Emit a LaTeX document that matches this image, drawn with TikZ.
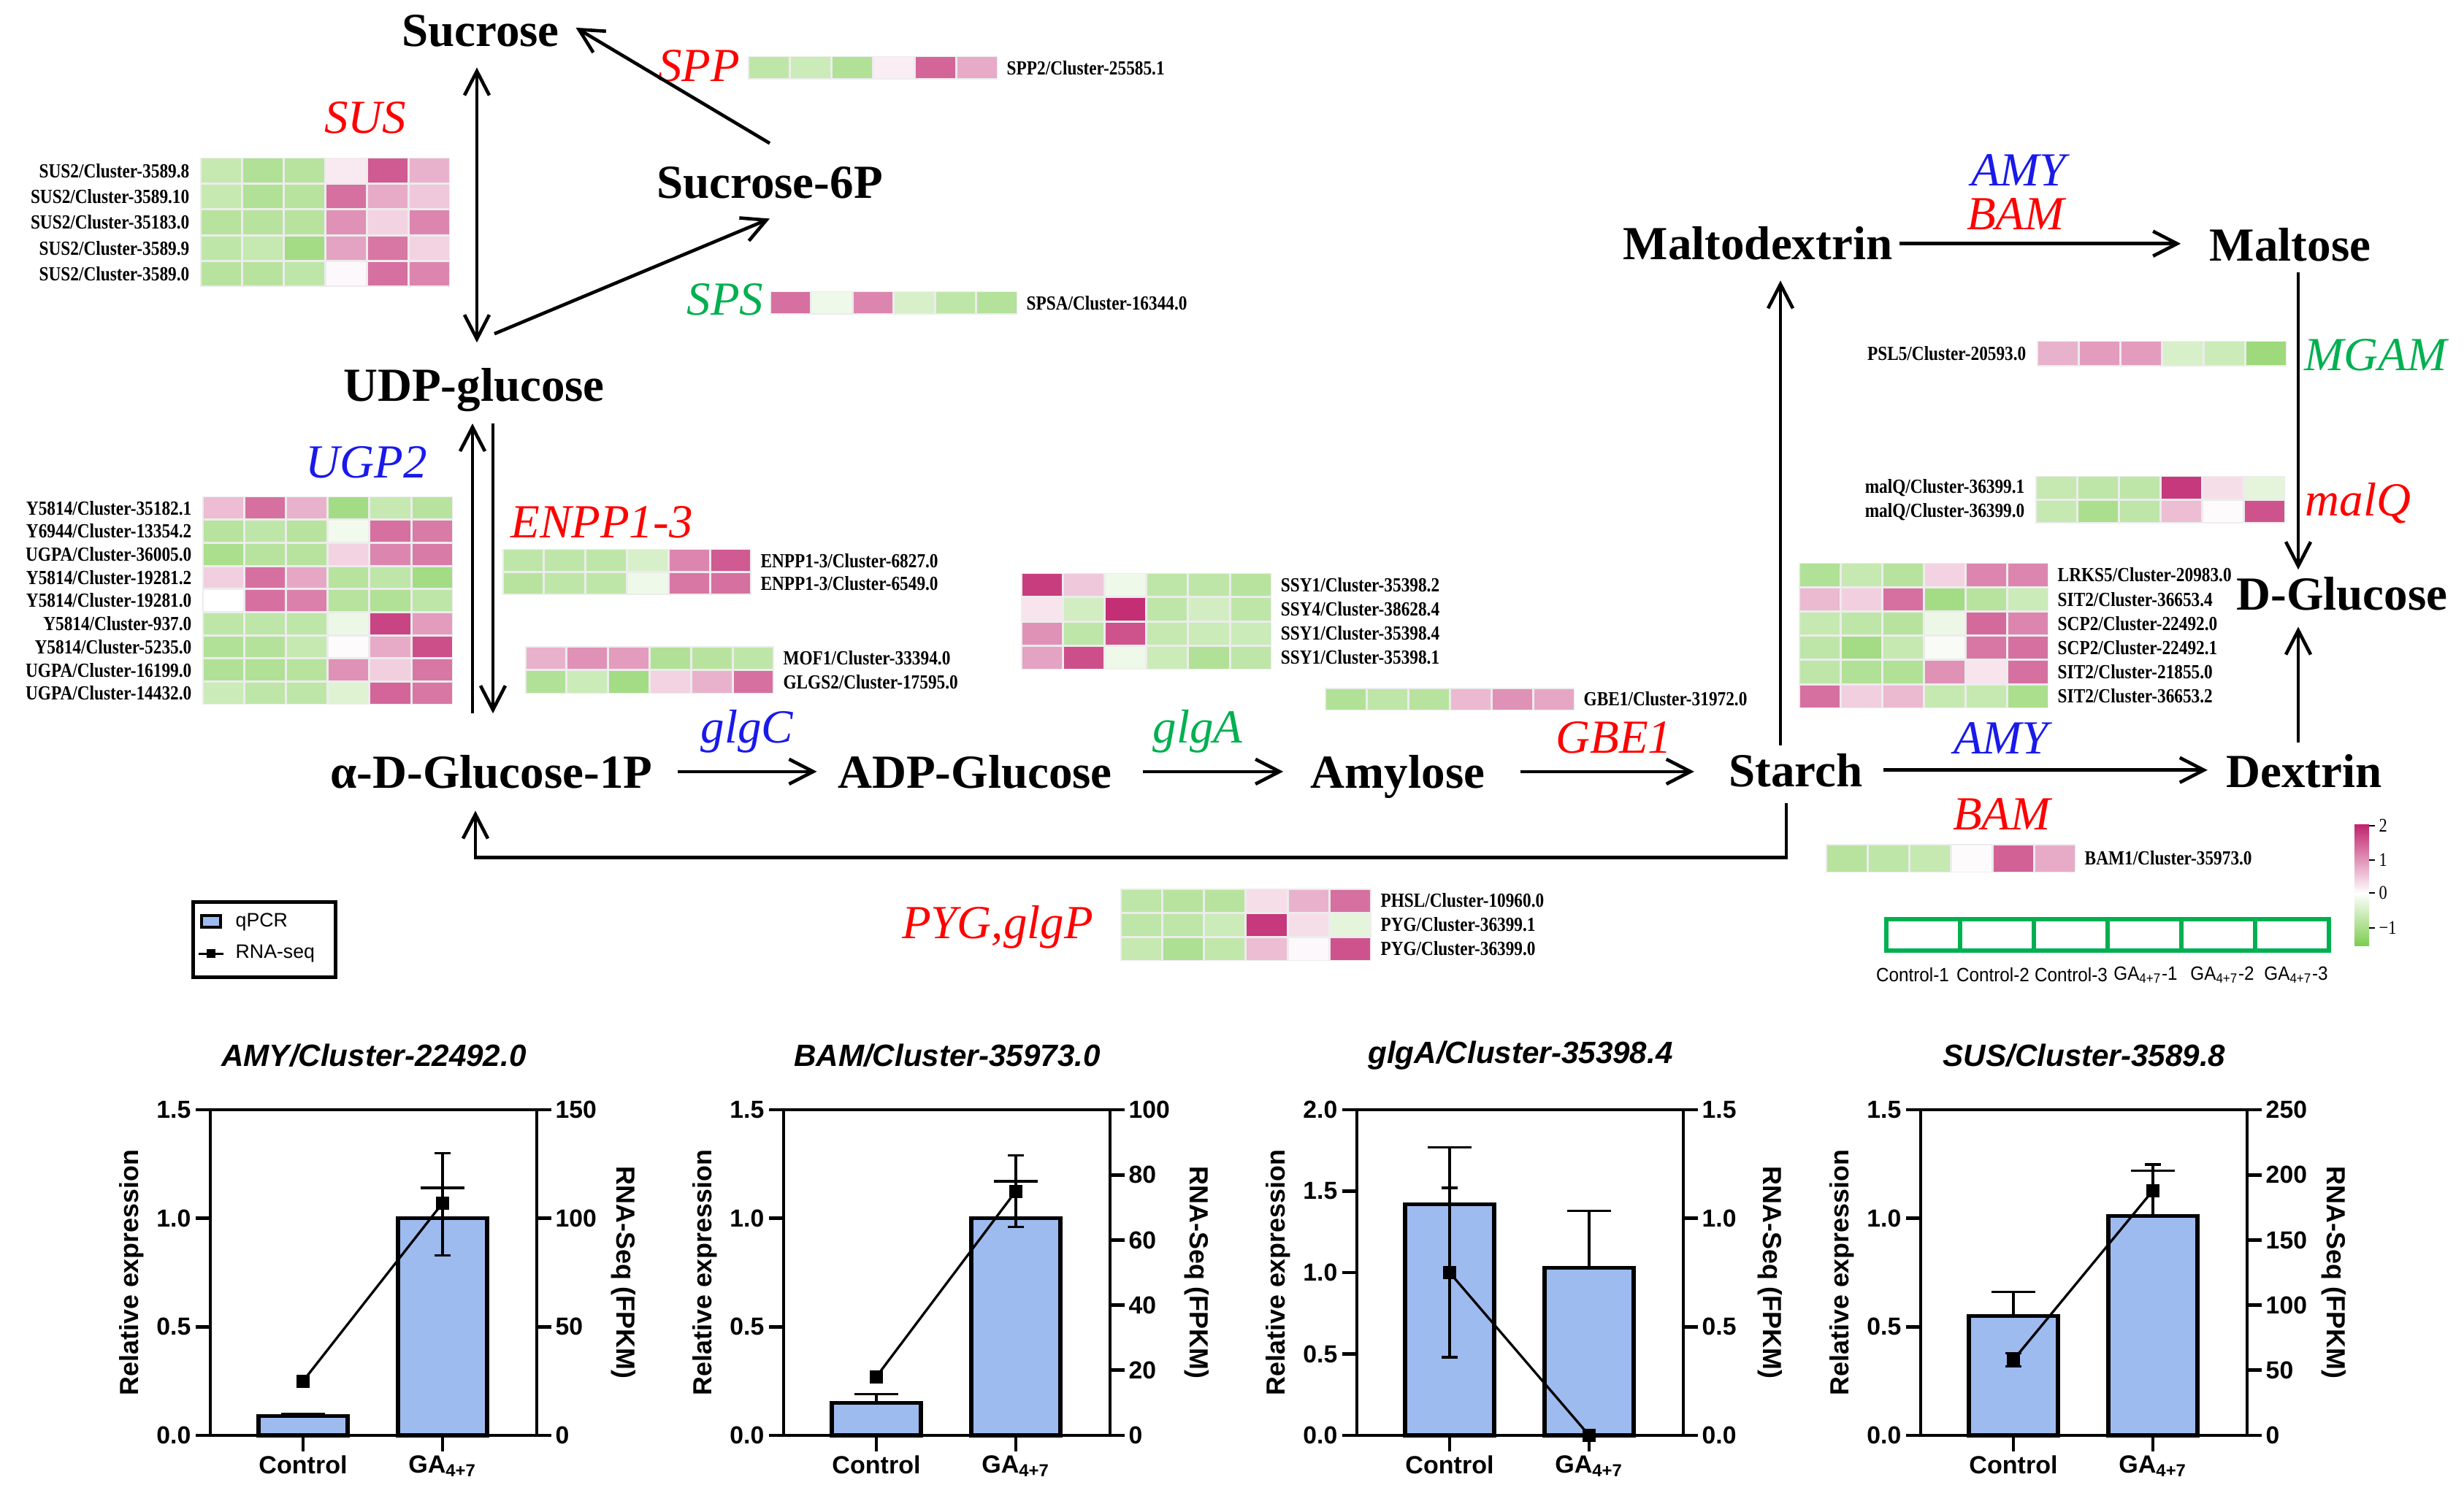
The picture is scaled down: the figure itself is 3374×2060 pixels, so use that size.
\documentclass[tikz,border=0pt]{standalone}
\usepackage{fontspec}
\setmainfont{Liberation Serif}
\setsansfont{Liberation Sans}
\newfontfamily\hmfont{Liberation Serif}[FakeStretch=0.85]
\newfontfamily\smpfont{Liberation Sans}[FakeStretch=0.92]
\usetikzlibrary{arrows.meta,calc}

\definecolor{hmG}{RGB}{125,205,80}
\definecolor{hmP}{RGB}{192,35,109}
\definecolor{hmbg}{RGB}{236,236,236}
\definecolor{gred}{RGB}{255,0,0}
\definecolor{gblue}{RGB}{25,25,235}
\definecolor{ggreen}{RGB}{0,176,80}
\definecolor{barblue}{RGB}{158,187,240}

\tikzset{
 metab/.style={font=\fontsize{18.5}{20}\selectfont\bfseries, inner sep=0pt, anchor=base},
 gene/.style={font=\fontsize{18.5}{20}\selectfont\itshape, inner sep=0pt, anchor=base},
 arr/.style={line width=0.46mm, -{Straight Barb[length=3.3mm,width=3.4mm]}},
 darr/.style={line width=0.46mm, {Straight Barb[length=3.3mm,width=3.4mm]}-{Straight Barb[length=3.3mm,width=3.4mm]}},
 hml/.style={font=\hmfont\bfseries\fontsize{7.8}{8.5}\selectfont, inner sep=0pt},
 cbl/.style={font=\hmfont\fontsize{7.5}{8}\selectfont, inner sep=0pt, anchor=west},
 smpl/.style={font=\smpfont\fontsize{7.5}{9}\selectfont, inner sep=0pt},
 legtext/.style={font=\sffamily\fontsize{7.6}{9}\selectfont, inner sep=0pt, anchor=west},
 axline/.style={line width=0.47mm, line cap=rect},
 barline/.style={line width=0.55mm},
 errline/.style={line width=0.33mm},
 ticklab/.style={font=\sffamily\bfseries\fontsize{9.6}{11}\selectfont, inner sep=0pt},
 axtitle/.style={font=\sffamily\bfseries\fontsize{10.2}{12}\selectfont, inner sep=0pt},
 xlab/.style={font=\sffamily\bfseries\fontsize{9.7}{11}\selectfont, inner sep=0pt},
 ctitle/.style={font=\sffamily\bfseries\itshape\fontsize{12}{14}\selectfont, inner sep=0pt},
}

% heat-map row: x, y, cell w, cell h, values (-100 green .. 100 pink), label, side L/R, name
\newcommand\hmrow[8]{%
  \fill[hmbg] (#1,#2) rectangle ({#1+6*#3},{#2+#4});
  \foreach \v [count=\i from 0] in {#5}{%
    \pgfmathtruncatemacro\a{abs(\v)}%
    \ifnum\v<0 \colorlet{hmc}{hmG!\a!white}\else\colorlet{hmc}{hmP!\a!white}\fi
    \fill[hmc] ({#1+\i*#3+1.5},{#2+1.5}) rectangle ({#1+(\i+1)*#3-1.5},{#2+#4-1.5});
  }%
  \ifx L#7\relax
    \node[hml,anchor=east] (#8) at ({#1-14},{#2+#4/2}) {#6};
  \else
    \node[hml,anchor=west] (#8) at ({#1+6*#3+12},{#2+#4/2}) {#6};
  \fi
}

% chart helpers (used inside a shifted scope, \Lm and \Rm defined)
\newcommand\qbar[3]{%
  \draw[barline,fill=barblue] ({#1-61},0) rectangle ({#1+61},{-#2/\Lm*446});
  \draw[errline] (#1,{-#2/\Lm*446}) -- (#1,{-#3/\Lm*446});
  \draw[errline] ({#1-30},{-#3/\Lm*446}) -- ({#1+30},{-#3/\Lm*446});
}
\newcommand\rerr[3]{%
  \draw[errline] (#1,{-#2/\Rm*446}) -- (#1,{-#3/\Rm*446});
  \draw[errline] ({#1-11},{-#2/\Rm*446}) -- ({#1+11},{-#2/\Rm*446});
  \draw[errline] ({#1-11},{-#3/\Rm*446}) -- ({#1+11},{-#3/\Rm*446});
}
\newcommand\rline[2]{%
  \draw[errline] (127,{-#1/\Rm*446}) -- (318,{-#2/\Rm*446});
  \fill (118,{-#1/\Rm*446-9}) rectangle (136,{-#1/\Rm*446+9});
  \fill (309,{-#2/\Rm*446-9}) rectangle (327,{-#2/\Rm*446+9});
}
\newcommand\chartaxes[4]{%
  \draw[axline] (-18,0) -- (465,0);
  \draw[axline] (-18,-446) -- (465,-446);
  \draw[axline] (0,0) -- (0,-446);
  \draw[axline] (447,0) -- (447,-446);
  \foreach \t/\l [count=\k] in {#2}{%
    \draw[axline] (-18,{-\t/\Lm*446}) -- (0,{-\t/\Lm*446});
    \node[ticklab,anchor=east] (#4L\k) at (-26,{-\t/\Lm*446}) {\l};}
  \foreach \t/\l [count=\k] in {#3}{%
    \draw[axline] (447,{-\t/\Rm*446}) -- (465,{-\t/\Rm*446});
    \node[ticklab,anchor=west] (#4R\k) at (472,{-\t/\Rm*446}) {\l};}
  \draw[axline] (127,0) -- (127,20);
  \draw[axline] (318,0) -- (318,20);
  \node[ctitle] (#4T) at (224,-520) {#1};
  \node[axtitle,rotate=90] (#4Y) at (-108,-223) {Relative expression};
  \node[axtitle,rotate=-90] (#4Z) at (566,-223) {RNA-Seq (FPKM)};
  \node[xlab,anchor=north] (#4C) at (127,27) {Control};
  \node[xlab,anchor=north] (#4G) at (318,27) {GA\textsubscript{4+7}};
}

\begin{document}
\begin{tikzpicture}[x=0.1mm,y=-0.1mm]
\useasboundingbox (0,0) rectangle (3374,2060);
\fill[white] (0,0) rectangle (3374,2060);

% ---------------- metabolites ----------------
\node[metab] (suc) at (658,64) {Sucrose};
\node[metab] (suc6p) at (1054,272) {Sucrose-6P};
\node[metab] (udpg) at (649,550) {UDP-glucose};
\node[metab] (g1p) at (673,1079) {α-D-Glucose-1P};
\node[metab] (adpg) at (1335,1079) {ADP-Glucose};
\node[metab] (amyl) at (1914,1079) {Amylose};
\node[metab] (starch) at (2459,1077) {Starch};
\node[metab] (dextrin) at (3155,1078) {Dextrin};
\node[metab] (maltod) at (2407,356) {Maltodextrin};
\node[metab] (maltose) at (3136,358) {Maltose};
\node[metab] (dglc) at (3207,835) {D-Glucose};

% ---------------- enzyme names ----------------
\node[gene,text=gred] (gSPP) at (957,112) {SPP};
\node[gene,text=gred] (gSUS) at (500,183) {SUS};
\node[gene,text=ggreen] (gSPS) at (993,432) {SPS};
\node[gene,text=gblue] (gUGP) at (502,655) {UGP2};
\node[gene,text=gred] (gENPP) at (824,737) {ENPP1-3};
\node[gene,text=gblue] (gglgC) at (1023,1017) {glgC};
\node[gene,text=ggreen] (gglgA) at (1640,1017) {glgA};
\node[gene,text=gred] (gGBE) at (2210,1031) {GBE1};
\node[gene,text=gblue] (gAMYb) at (2740,1032) {AMY};
\node[gene,text=gred] (gBAMb) at (2741,1136) {BAM};
\node[gene,text=gblue] (gAMYa) at (2764,255) {AMY};
\node[gene,text=gred] (gBAMa) at (2760,315) {BAM};
\node[gene,text=ggreen] (gMGAM) at (3253,508) {MGAM};
\node[gene,text=gred] (gmalQ) at (3229,707) {malQ};
\node[gene,text=gred] (gPYG) at (1366,1285) {PYG,glgP};

% ---------------- arrows ----------------
\draw[darr] ($(suc.south)+(-5,27)$) -- ($(udpg.north)+(4,-35)$);
\draw[arr] ($(suc6p.north)+(0,-32)$) -- ($(suc.east)+(22,-5)$);
\draw[arr] ($(udpg.north)+(28,-47)$) -- ($(suc6p.south)+(0,26)$);
\draw[arr] ($(g1p.north)+(-26,-56)$) -- ($(udpg.south)+(-2,15)$);
\draw[arr] ($(udpg.south)+(26,15)$) -- ($(g1p.north)+(2,-56)$);
\draw[arr] ($(g1p.east)+(34,0)$) -- ($(g1p.east -| adpg.west)+(-28,0)$);
\draw[arr] ($(adpg.east)+(41,0)$) -- ($(adpg.east -| amyl.west)+(-37,0)$);
\draw[arr] ($(amyl.east |- adpg.east)+(48,0)$) -- ($(adpg.east -| starch.west)+(-47,0)$);
\draw[arr] ($(starch.east)+(28,0)$) -- ($(starch.east -| dextrin.west)+(-25,0)$);
\draw[arr] ($(starch.north)+(-21,-10)$) -- ($(maltod.south)+(31,27)$);
\draw[arr] ($(maltod.east)+(9,0)$) -- ($(maltod.east -| maltose.west)+(-39,0)$);
\draw[arr] ($(maltose.south)+(11,14)$) -- ($(maltose.south |- dglc.north)+(11,-9)$);
\draw[arr] ($(dextrin.north -| maltose.south)+(11,-15)$) -- ($(maltose.south |- dglc.south)+(11,22)$);
\draw[arr] ($(starch.south)+(-13,22)$) |- ($(g1p.south)+(-22,94)$) -- ($(g1p.south)+(-22,30)$);

% ---------------- heat maps ----------------
% SUS
\hmrow{274}{216}{57}{35.4}{-45,-60,-55,10,75,35}{SUS2/Cluster-3589.8}{L}{hs1}
\hmrow{274}{251.4}{57}{35.4}{-45,-60,-55,65,38,25}{SUS2/Cluster-3589.10}{L}{hs2}
\hmrow{274}{286.8}{57}{35.4}{-55,-55,-55,50,20,55}{SUS2/Cluster-35183.0}{L}{hs3}
\hmrow{274}{322.2}{57}{35.4}{-50,-45,-70,42,62,20}{SUS2/Cluster-3589.9}{L}{hs4}
\hmrow{274}{357.6}{57}{35.4}{-55,-55,-50,3,65,55}{SUS2/Cluster-3589.0}{L}{hs5}
% UGP2
\hmrow{277}{680}{57.2}{31.7}{30,65,35,-70,-45,-55}{Y5814/Cluster-35182.1}{L}{hu1}
\hmrow{277}{711.7}{57.2}{31.7}{-55,-50,-55,-10,65,60}{Y6944/Cluster-13354.2}{L}{hu2}
\hmrow{277}{743.4}{57.2}{31.7}{-65,-55,-55,20,55,60}{UGPA/Cluster-36005.0}{L}{hu3}
\hmrow{277}{775.1}{57.2}{31.7}{22,65,40,-55,-50,-70}{Y5814/Cluster-19281.2}{L}{hu4}
\hmrow{277}{806.8}{57.2}{31.7}{0,65,58,-55,-60,-50}{Y5814/Cluster-19281.0}{L}{hu5}
\hmrow{277}{838.5}{57.2}{31.7}{-50,-50,-50,-15,85,45}{Y5814/Cluster-937.0}{L}{hu6}
\hmrow{277}{870.2}{57.2}{31.7}{-60,-58,-45,2,38,80}{Y5814/Cluster-5235.0}{L}{hu7}
\hmrow{277}{901.9}{57.2}{31.7}{-60,-60,-55,50,22,62}{UGPA/Cluster-16199.0}{L}{hu8}
\hmrow{277}{933.6}{57.2}{31.7}{-40,-50,-50,-25,70,62}{UGPA/Cluster-14432.0}{L}{hu9}
% ENPP / MOF1
\hmrow{688}{752}{56.8}{31.5}{-50,-50,-50,-30,55,75}{ENPP1-3/Cluster-6827.0}{R}{he1}
\hmrow{688}{783.5}{56.8}{31.5}{-55,-50,-50,-12,62,65}{ENPP1-3/Cluster-6549.0}{R}{he2}
\hmrow{719}{885}{56.8}{32.5}{35,50,45,-60,-55,-50}{MOF1/Cluster-33394.0}{R}{hm1}
\hmrow{719}{917.5}{56.8}{32.5}{-60,-40,-70,20,35,65}{GLGS2/Cluster-17595.0}{R}{hm2}
% SPP / SPS
\hmrow{1024}{77}{57}{32}{-50,-40,-60,8,70,38}{SPP2/Cluster-25585.1}{R}{hp1}
\hmrow{1054}{399}{56.5}{32}{65,-12,55,-30,-50,-58}{SPSA/Cluster-16344.0}{R}{hsp1}
% SSY / GBE1
\hmrow{1398}{785}{57.2}{33}{88,25,-12,-50,-50,-55}{SSY1/Cluster-35398.2}{R}{hy1}
\hmrow{1398}{818}{57.2}{33}{12,-35,95,-50,-35,-50}{SSY4/Cluster-38628.4}{R}{hy2}
\hmrow{1398}{851}{57.2}{33}{50,-50,78,-45,-40,-40}{SSY1/Cluster-35398.4}{R}{hy3}
\hmrow{1398}{884}{57.2}{33}{42,80,-12,-40,-60,-50}{SSY1/Cluster-35398.1}{R}{hy4}
\hmrow{1814}{942}{57}{31}{-60,-50,-55,32,50,40}{GBE1/Cluster-31972.0}{R}{hg1}
% PSL5 / malQ
\hmrow{2789}{467}{57}{35}{35,45,45,-30,-40,-75}{PSL5/Cluster-20593.0}{L}{hps}
\hmrow{2787}{652}{57}{32.5}{-45,-50,-50,90,15,-20}{malQ/Cluster-36399.1}{L}{hq1}
\hmrow{2787}{684.5}{57}{32.5}{-45,-65,-50,30,2,78}{malQ/Cluster-36399.0}{L}{hq2}
% LRKS5 block
\hmrow{2463}{771}{57}{33.2}{-60,-45,-55,20,55,55}{LRKS5/Cluster-20983.0}{R}{hl1}
\hmrow{2463}{804.2}{57}{33.2}{32,22,65,-70,-55,-40}{SIT2/Cluster-36653.4}{R}{hl2}
\hmrow{2463}{837.4}{57}{33.2}{-45,-50,-55,-15,68,55}{SCP2/Cluster-22492.0}{R}{hl3}
\hmrow{2463}{870.6}{57}{33.2}{-50,-70,-45,-5,62,65}{SCP2/Cluster-22492.1}{R}{hl4}
\hmrow{2463}{903.8}{57}{33.2}{-50,-60,-60,50,12,65}{SIT2/Cluster-21855.0}{R}{hl5}
\hmrow{2463}{937}{57}{33.2}{65,22,32,-45,-45,-65}{SIT2/Cluster-36653.2}{R}{hl6}
% BAM1
\hmrow{2500}{1156}{57}{39}{-55,-50,-45,2,72,38}{BAM1/Cluster-35973.0}{R}{hb1}
% PYG
\hmrow{1534}{1217}{57.3}{33}{-50,-55,-55,15,35,65}{PHSL/Cluster-10960.0}{R}{hy5}
\hmrow{1534}{1250}{57.3}{33}{-50,-50,-40,90,15,-20}{PYG/Cluster-36399.1}{R}{hy6}
\hmrow{1534}{1283}{57.3}{33}{-45,-62,-48,30,3,78}{PYG/Cluster-36399.0}{R}{hy7}

% ---------------- colour bar ----------------
\shade[top color=hmP, bottom color=white] (3224,1129) rectangle (3244,1224);
\shade[top color=white, bottom color=hmG] (3224,1223) rectangle (3244,1295);
\foreach \yy/\ll [count=\k] in {1131/2,1178/1,1223/0,1271/−1}{
  \draw[line width=0.25mm] (3244,\yy) -- (3252,\yy);
  \node[cbl] (cb\k) at (3257,\yy) {\ll};
}

% ---------------- sample legend ----------------
\draw[ggreen,line width=0.55mm] (2583,1259) rectangle (3189,1302);
\foreach \xx in {1,...,5}{ \draw[ggreen,line width=0.55mm] ({2583+\xx*101},1259) -- ({2583+\xx*101},1302); }
\node[smpl] (s1) at (2619,1335) {Control-1};
\node[smpl] (s2) at (2729,1335) {Control-2};
\node[smpl] (s3) at (2836,1335) {Control-3};
\node[smpl] (s4) at (2938,1335) {GA\textsubscript{4+7}-1};
\node[smpl] (s5) at (3043,1335) {GA\textsubscript{4+7}-2};
\node[smpl] (s6) at (3144,1335) {GA\textsubscript{4+7}-3};

% ---------------- qPCR legend ----------------
\draw[line width=0.5mm] (264,1235) rectangle (459,1338);
\draw[line width=0.35mm, fill=barblue] (276,1254) rectangle (302,1270);
\node[legtext] (lq) at (322,1263) {qPCR};
\draw[line width=0.3mm] (272,1306) -- (306,1306);
\fill (283,1300) rectangle (295,1312);
\node[legtext] (lr) at (322,1306) {RNA-seq};

% ---------------- charts ----------------
\begin{scope}[shift={(288,1966)}]
  \def\Lm{1.5}\def\Rm{150}
  \qbar{127}{0.09}{0.10}
  \qbar{318}{1.0}{1.14}
  \chartaxes{AMY/Cluster-22492.0}{0/0.0,0.5/0.5,1/1.0,1.5/1.5}{0/0,50/50,100/100,150/150}{ca}
  \rerr{318}{83}{130}
  \rline{25}{107}
\end{scope}

\begin{scope}[shift={(1073,1966)}]
  \def\Lm{1.5}\def\Rm{100}
  \qbar{127}{0.15}{0.19}
  \qbar{318}{1.0}{1.17}
  \chartaxes{BAM/Cluster-35973.0}{0/0.0,0.5/0.5,1/1.0,1.5/1.5}{0/0,20/20,40/40,60/60,80/80,100/100}{cb}
  \rerr{318}{64}{86}
  \rline{18}{75}
\end{scope}

\begin{scope}[shift={(1858,1966)}]
  \def\Lm{2.0}\def\Rm{1.5}
  \qbar{127}{1.42}{1.77}
  \qbar{318}{1.03}{1.38}
  \chartaxes{glgA/Cluster-35398.4}{0/0.0,0.5/0.5,1/1.0,1.5/1.5,2/2.0}{0/0.0,0.5/0.5,1/1.0,1.5/1.5}{cc}
  \rerr{127}{0.36}{1.14}
  \rline{0.75}{0}
\end{scope}

\begin{scope}[shift={(2630,1966)}]
  \def\Lm{1.5}\def\Rm{250}
  \qbar{127}{0.55}{0.66}
  \qbar{318}{1.01}{1.22}
  \chartaxes{SUS/Cluster-3589.8}{0/0.0,0.5/0.5,1/1.0,1.5/1.5}{0/0,50/50,100/100,150/150,200/200,250/250}{cd}
  \rerr{127}{53}{63}
  \rerr{318}{168}{208}
  \rline{58}{188}
\end{scope}

\end{tikzpicture}
\end{document}
